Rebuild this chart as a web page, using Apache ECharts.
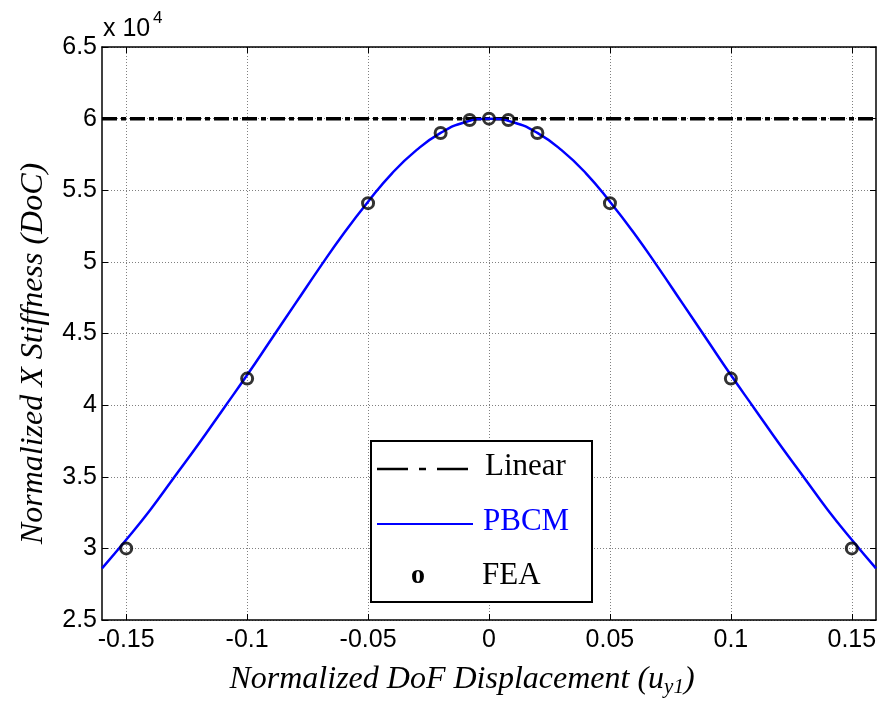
<!DOCTYPE html>
<html>
<head>
<meta charset="utf-8">
<script src="https://cdn.jsdelivr.net/npm/echarts@6/dist/echarts.min.js"></script>
<style>
  html, body { margin: 0; padding: 0; background: #fff; }
  #chart { width: 884px; height: 705px; }
</style>
</head>
<body>
<div id="chart"></div>
<script>
// x ticks shown on the axis
const xTicks = [-0.15, -0.1, -0.05, 0, 0.05, 0.1, 0.15]

// linear model: constant stiffness (x 10^4)
const linearX = [-0.16, 0.16]
const linearY = [6, 6]

// PBCM curve (x 10^4)
const pbcmX = [-0.16, -0.15, -0.14, -0.13, -0.12, -0.11, -0.1, -0.09, -0.08, -0.07, -0.06, -0.05, -0.04, -0.03, -0.02, -0.01, 0,
  0.01, 0.02, 0.03, 0.04, 0.05, 0.06, 0.07, 0.08, 0.09, 0.1, 0.11, 0.12, 0.13, 0.14, 0.15, 0.16]
const pbcmY = [2.86, 3.06, 3.27, 3.5, 3.73, 3.97, 4.21, 4.46, 4.71, 4.96, 5.2, 5.42, 5.62, 5.78, 5.9, 5.975, 6.0,
  5.975, 5.9, 5.78, 5.62, 5.42, 5.2, 4.96, 4.71, 4.46, 4.21, 3.97, 3.73, 3.5, 3.27, 3.06, 2.86]

// FEA samples (x 10^4)
const feaX = [-0.15, -0.1, -0.05, -0.02, -0.008, 0, 0.008, 0.02, 0.05, 0.1, 0.15]
const feaY = [3.0, 4.185, 5.41, 5.9, 5.99, 6.0, 5.99, 5.9, 5.41, 4.185, 3.0]

const zip = (xs, ys) => xs.map((x, i) => [x, ys[i]])

const sans = 'Liberation Sans'
const serif = 'Liberation Serif'
const gridLine = { show: true, lineStyle: { color: '#808080', type: [1, 2], width: 1 } }
const blackLine = { show: true, onZero: false, lineStyle: { color: '#000', width: 1.5 } }

const chart = echarts.init(document.getElementById('chart'))
chart.setOption({
  animation: false,
  backgroundColor: '#fff',
  grid: { left: 102, right: 8, top: 47, bottom: 85 },
  xAxis: [{
    type: 'value', min: -0.16, max: 0.16, position: 'bottom',
    axisLine: blackLine,
    axisTick: { inside: true, length: 6, lineStyle: { color: '#000' }, customValues: xTicks },
    axisLabel: { customValues: xTicks, fontFamily: sans, fontSize: 25, color: '#000', margin: 8 },
    splitLine: gridLine,
    name: '{i|Normalized DoF Displacement (u}{s|y1}{i|)}',
    nameLocation: 'middle', nameGap: 42,
    nameTextStyle: {
      padding: [0, 54, 0, 0],
      rich: {
        i: { fontFamily: serif, fontStyle: 'italic', fontSize: 32, color: '#000', lineHeight: 36 },
        s: { fontFamily: serif, fontStyle: 'italic', fontSize: 21, color: '#000', lineHeight: 20, padding: [14, 0, 0, 0] }
      }
    }
  }, {
    type: 'value', min: -0.16, max: 0.16, position: 'top',
    axisLine: blackLine,
    axisTick: { inside: true, length: 6, lineStyle: { color: '#000' }, customValues: xTicks },
    axisLabel: { show: false },
    splitLine: { show: false }
  }],
  yAxis: [{
    type: 'value', min: 2.5, max: 6.5, interval: 0.5, position: 'left',
    axisLine: blackLine,
    axisTick: { inside: true, length: 6, lineStyle: { color: '#000' } },
    axisLabel: { fontFamily: sans, fontSize: 25, color: '#000', margin: 5 },
    splitLine: gridLine,
    name: 'Normalized X Stiffness (DoC)',
    nameLocation: 'middle', nameGap: 52, nameRotate: 90,
    nameTextStyle: { fontFamily: serif, fontStyle: 'italic', fontSize: 32, color: '#000', padding: [0, 40, 0, 0] }
  }, {
    type: 'value', min: 2.5, max: 6.5, interval: 0.5, position: 'right',
    axisLine: blackLine,
    axisTick: { inside: true, length: 6, lineStyle: { color: '#000' } },
    axisLabel: { show: false },
    splitLine: { show: false }
  }],
  series: [{
    name: 'Linear', type: 'line', data: zip(linearX, linearY), symbol: 'none',
    lineStyle: { color: '#000', width: 3.5, type: [15, 4, 5, 4] }, z: 3
  }, {
    name: 'PBCM', type: 'line', data: zip(pbcmX, pbcmY), symbol: 'none', smooth: true,
    lineStyle: { color: '#0000ff', width: 2.5 }, z: 4
  }, {
    name: 'FEA', type: 'scatter', data: zip(feaX, feaY), symbol: 'circle', symbolSize: 11,
    itemStyle: { color: 'rgba(0,0,0,0)', borderColor: '#000', borderWidth: 3 }, z: 5
  }],
  graphic: [
    { type: 'text', left: 103, top: 17, style: { text: 'x 10', font: '25px "Liberation Sans"', fill: '#000' } },
    { type: 'text', left: 153, top: 10, style: { text: '4', font: '17px "Liberation Sans"', fill: '#000' } },
    { type: 'rect', shape: { x: 371, y: 441, width: 221, height: 161 }, style: { fill: '#fff', stroke: '#000', lineWidth: 2 }, z: 10 },
    { type: 'line', shape: { x1: 377, y1: 469, x2: 469, y2: 469 }, style: { stroke: '#000', lineWidth: 2.5, lineDash: [31, 11, 7, 11] }, z: 11 },
    { type: 'text', x: 485, y: 467, style: { text: 'Linear', font: '31px "Liberation Serif"', fill: '#000', verticalAlign: 'middle' }, z: 11 },
    { type: 'line', shape: { x1: 377, y1: 524, x2: 473, y2: 524 }, style: { stroke: '#0000ff', lineWidth: 2 }, z: 11 },
    { type: 'text', x: 483, y: 522, style: { text: 'PBCM', font: '31px "Liberation Serif"', fill: '#0000ff', verticalAlign: 'middle' }, z: 11 },
    { type: 'text', x: 418, y: 576, style: { text: 'o', font: 'bold 28px "Liberation Serif"', fill: '#000', align: 'center', verticalAlign: 'middle' }, z: 11 },
    { type: 'text', x: 482, y: 576, style: { text: 'FEA', font: '31px "Liberation Serif"', fill: '#000', verticalAlign: 'middle' }, z: 11 }
  ]
})
</script>
</body>
</html>
